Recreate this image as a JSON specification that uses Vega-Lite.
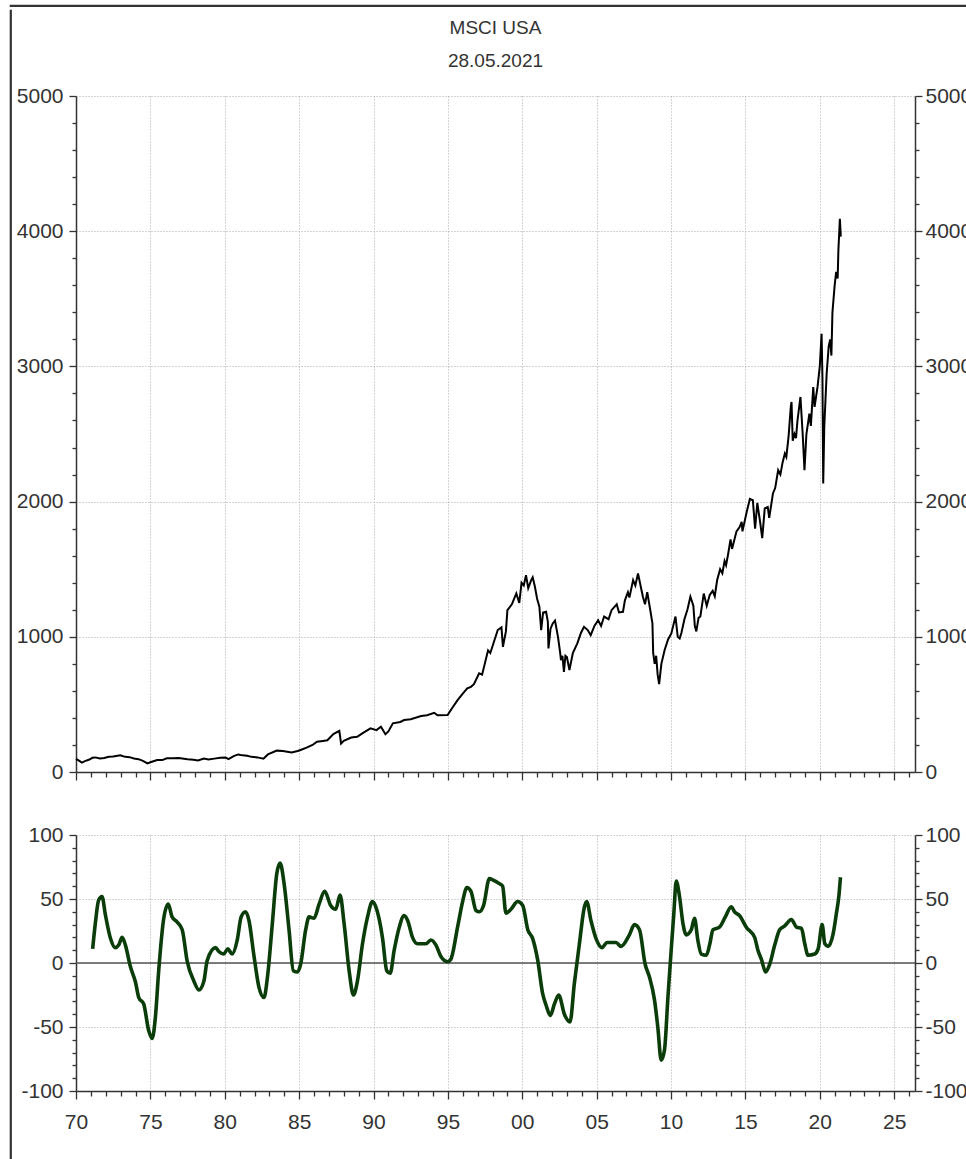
{
  "$schema": "https://vega.github.io/schema/vega-lite/v6.json",
  "background": "white",
  "padding": {"left": 7, "top": 2, "right": 0, "bottom": 0},
  "datasets": {
    "price": [
      {"t": 1970.0, "v": 96}, {"t": 1970.15, "v": 88}, {"t": 1970.4, "v": 70}, {"t": 1970.6, "v": 80}, {"t": 1970.9, "v": 92},
      {"t": 1971.1, "v": 105}, {"t": 1971.3, "v": 108}, {"t": 1971.6, "v": 100}, {"t": 1971.9, "v": 104}, {"t": 1972.2, "v": 112},
      {"t": 1972.5, "v": 114}, {"t": 1972.98, "v": 124}, {"t": 1973.3, "v": 112}, {"t": 1973.6, "v": 110}, {"t": 1973.9, "v": 100},
      {"t": 1974.2, "v": 95}, {"t": 1974.5, "v": 82}, {"t": 1974.8, "v": 64}, {"t": 1975.0, "v": 72}, {"t": 1975.45, "v": 89},
      {"t": 1975.8, "v": 88}, {"t": 1976.1, "v": 101}, {"t": 1976.5, "v": 102}, {"t": 1976.9, "v": 104}, {"t": 1977.5, "v": 95},
      {"t": 1977.9, "v": 90}, {"t": 1978.2, "v": 86}, {"t": 1978.6, "v": 100}, {"t": 1978.9, "v": 92}, {"t": 1979.3, "v": 99},
      {"t": 1979.7, "v": 106}, {"t": 1980.05, "v": 108}, {"t": 1980.25, "v": 96}, {"t": 1980.6, "v": 118}, {"t": 1980.9, "v": 130},
      {"t": 1981.06, "v": 126}, {"t": 1981.5, "v": 120}, {"t": 1981.8, "v": 112}, {"t": 1982.2, "v": 108}, {"t": 1982.6, "v": 98},
      {"t": 1982.9, "v": 130}, {"t": 1983.5, "v": 158}, {"t": 1983.9, "v": 155}, {"t": 1984.5, "v": 145}, {"t": 1984.9, "v": 155},
      {"t": 1985.1, "v": 163}, {"t": 1985.5, "v": 180}, {"t": 1985.9, "v": 200}, {"t": 1986.2, "v": 224}, {"t": 1986.6, "v": 230},
      {"t": 1986.9, "v": 235}, {"t": 1987.3, "v": 280}, {"t": 1987.7, "v": 305}, {"t": 1987.82, "v": 210}, {"t": 1988.0, "v": 230},
      {"t": 1988.5, "v": 255}, {"t": 1988.9, "v": 261}, {"t": 1989.3, "v": 290}, {"t": 1989.8, "v": 323}, {"t": 1990.2, "v": 310},
      {"t": 1990.5, "v": 335}, {"t": 1990.8, "v": 280}, {"t": 1991.0, "v": 300}, {"t": 1991.3, "v": 360}, {"t": 1991.8, "v": 370},
      {"t": 1992.06, "v": 384}, {"t": 1992.5, "v": 390}, {"t": 1993.2, "v": 414}, {"t": 1993.6, "v": 420}, {"t": 1994.08, "v": 438},
      {"t": 1994.3, "v": 420}, {"t": 1994.98, "v": 421}, {"t": 1995.3, "v": 475}, {"t": 1995.65, "v": 532}, {"t": 1996.0, "v": 580},
      {"t": 1996.3, "v": 618}, {"t": 1996.55, "v": 630}, {"t": 1996.75, "v": 650}, {"t": 1997.1, "v": 730}, {"t": 1997.3, "v": 720},
      {"t": 1997.7, "v": 900}, {"t": 1997.85, "v": 880}, {"t": 1998.0, "v": 930}, {"t": 1998.35, "v": 1050}, {"t": 1998.6, "v": 1070},
      {"t": 1998.7, "v": 926}, {"t": 1998.9, "v": 1040}, {"t": 1999.0, "v": 1197}, {"t": 1999.3, "v": 1240}, {"t": 1999.6, "v": 1321},
      {"t": 1999.8, "v": 1250}, {"t": 1999.95, "v": 1400}, {"t": 2000.1, "v": 1380}, {"t": 2000.25, "v": 1456}, {"t": 2000.4, "v": 1360},
      {"t": 2000.6, "v": 1419}, {"t": 2000.7, "v": 1440}, {"t": 2000.85, "v": 1370}, {"t": 2001.0, "v": 1280}, {"t": 2001.15, "v": 1222},
      {"t": 2001.27, "v": 1049}, {"t": 2001.4, "v": 1180}, {"t": 2001.6, "v": 1185}, {"t": 2001.72, "v": 1110}, {"t": 2001.76, "v": 914},
      {"t": 2001.9, "v": 1060}, {"t": 2002.05, "v": 1099}, {"t": 2002.2, "v": 1120}, {"t": 2002.4, "v": 1000}, {"t": 2002.55, "v": 880},
      {"t": 2002.6, "v": 828}, {"t": 2002.7, "v": 860}, {"t": 2002.8, "v": 740}, {"t": 2002.9, "v": 860}, {"t": 2003.0, "v": 850},
      {"t": 2003.17, "v": 754}, {"t": 2003.4, "v": 880}, {"t": 2003.7, "v": 951}, {"t": 2003.95, "v": 1030}, {"t": 2004.15, "v": 1074},
      {"t": 2004.4, "v": 1050}, {"t": 2004.6, "v": 1012}, {"t": 2004.85, "v": 1080}, {"t": 2005.1, "v": 1123}, {"t": 2005.3, "v": 1080},
      {"t": 2005.5, "v": 1150}, {"t": 2005.8, "v": 1130}, {"t": 2006.0, "v": 1197}, {"t": 2006.35, "v": 1240}, {"t": 2006.5, "v": 1180},
      {"t": 2006.77, "v": 1185}, {"t": 2006.9, "v": 1270}, {"t": 2007.1, "v": 1330}, {"t": 2007.2, "v": 1290}, {"t": 2007.45, "v": 1420},
      {"t": 2007.6, "v": 1380}, {"t": 2007.78, "v": 1468}, {"t": 2007.95, "v": 1380}, {"t": 2008.1, "v": 1300}, {"t": 2008.25, "v": 1240},
      {"t": 2008.4, "v": 1330}, {"t": 2008.6, "v": 1200}, {"t": 2008.75, "v": 1100}, {"t": 2008.8, "v": 880}, {"t": 2008.9, "v": 800},
      {"t": 2009.0, "v": 860}, {"t": 2009.1, "v": 720}, {"t": 2009.2, "v": 650}, {"t": 2009.35, "v": 800}, {"t": 2009.57, "v": 902},
      {"t": 2009.8, "v": 980}, {"t": 2010.02, "v": 1025}, {"t": 2010.3, "v": 1150}, {"t": 2010.45, "v": 1000}, {"t": 2010.58, "v": 988},
      {"t": 2010.7, "v": 1030}, {"t": 2010.9, "v": 1130}, {"t": 2011.1, "v": 1200}, {"t": 2011.3, "v": 1296}, {"t": 2011.5, "v": 1230},
      {"t": 2011.6, "v": 1080}, {"t": 2011.7, "v": 1040}, {"t": 2011.85, "v": 1140}, {"t": 2011.97, "v": 1150}, {"t": 2012.2, "v": 1320},
      {"t": 2012.4, "v": 1230}, {"t": 2012.6, "v": 1310}, {"t": 2012.8, "v": 1340}, {"t": 2012.94, "v": 1300}, {"t": 2013.1, "v": 1420},
      {"t": 2013.3, "v": 1500}, {"t": 2013.45, "v": 1470}, {"t": 2013.6, "v": 1560}, {"t": 2013.7, "v": 1530}, {"t": 2013.85, "v": 1620},
      {"t": 2014.0, "v": 1720}, {"t": 2014.1, "v": 1650}, {"t": 2014.4, "v": 1780}, {"t": 2014.6, "v": 1810}, {"t": 2014.75, "v": 1850},
      {"t": 2014.8, "v": 1780}, {"t": 2015.1, "v": 1930}, {"t": 2015.3, "v": 2020}, {"t": 2015.5, "v": 2010}, {"t": 2015.65, "v": 1800},
      {"t": 2015.8, "v": 1990}, {"t": 2016.0, "v": 1840}, {"t": 2016.13, "v": 1730}, {"t": 2016.3, "v": 1950}, {"t": 2016.5, "v": 1960},
      {"t": 2016.6, "v": 1880}, {"t": 2016.85, "v": 2060}, {"t": 2017.0, "v": 2100}, {"t": 2017.2, "v": 2232}, {"t": 2017.35, "v": 2200},
      {"t": 2017.5, "v": 2290}, {"t": 2017.65, "v": 2355}, {"t": 2017.75, "v": 2330}, {"t": 2017.9, "v": 2480}, {"t": 2018.05, "v": 2700},
      {"t": 2018.1, "v": 2737}, {"t": 2018.18, "v": 2450}, {"t": 2018.3, "v": 2500}, {"t": 2018.4, "v": 2470}, {"t": 2018.5, "v": 2600},
      {"t": 2018.7, "v": 2774}, {"t": 2018.85, "v": 2500}, {"t": 2018.97, "v": 2232}, {"t": 2019.1, "v": 2500}, {"t": 2019.3, "v": 2651},
      {"t": 2019.4, "v": 2560}, {"t": 2019.56, "v": 2848}, {"t": 2019.65, "v": 2700}, {"t": 2019.85, "v": 2850}, {"t": 2020.0, "v": 3000},
      {"t": 2020.12, "v": 3242}, {"t": 2020.18, "v": 2900}, {"t": 2020.23, "v": 2134}, {"t": 2020.3, "v": 2550}, {"t": 2020.46, "v": 2945},
      {"t": 2020.6, "v": 3150}, {"t": 2020.7, "v": 3200}, {"t": 2020.78, "v": 3080}, {"t": 2020.85, "v": 3400}, {"t": 2021.0, "v": 3600},
      {"t": 2021.1, "v": 3700}, {"t": 2021.2, "v": 3650}, {"t": 2021.25, "v": 3858}, {"t": 2021.35, "v": 4092}, {"t": 2021.41, "v": 3960}
    ],
    "mom": [
      {"t": 1971.12, "v": 11}, {"t": 1971.3, "v": 31}, {"t": 1971.52, "v": 49}, {"t": 1971.75, "v": 52}, {"t": 1971.97, "v": 38},
      {"t": 1972.3, "v": 20}, {"t": 1972.65, "v": 12}, {"t": 1972.87, "v": 14}, {"t": 1973.1, "v": 20}, {"t": 1973.32, "v": 14},
      {"t": 1973.66, "v": -3}, {"t": 1974.0, "v": -15}, {"t": 1974.22, "v": -27}, {"t": 1974.55, "v": -32}, {"t": 1974.89, "v": -53},
      {"t": 1975.12, "v": -59}, {"t": 1975.34, "v": -42}, {"t": 1975.56, "v": -6}, {"t": 1975.9, "v": 35}, {"t": 1976.2, "v": 46},
      {"t": 1976.46, "v": 36}, {"t": 1976.8, "v": 32}, {"t": 1977.14, "v": 26}, {"t": 1977.48, "v": 1}, {"t": 1977.92, "v": -14},
      {"t": 1978.26, "v": -21}, {"t": 1978.6, "v": -14}, {"t": 1978.82, "v": 2}, {"t": 1979.38, "v": 12}, {"t": 1979.6, "v": 9},
      {"t": 1979.93, "v": 7}, {"t": 1980.2, "v": 11}, {"t": 1980.5, "v": 7}, {"t": 1980.84, "v": 18}, {"t": 1981.1, "v": 36},
      {"t": 1981.4, "v": 40}, {"t": 1981.63, "v": 33}, {"t": 1981.97, "v": 5}, {"t": 1982.3, "v": -19}, {"t": 1982.64, "v": -27},
      {"t": 1982.87, "v": -11}, {"t": 1983.2, "v": 31}, {"t": 1983.5, "v": 70}, {"t": 1983.72, "v": 78}, {"t": 1983.99, "v": 62},
      {"t": 1984.32, "v": 26}, {"t": 1984.61, "v": -6}, {"t": 1984.88, "v": -7}, {"t": 1985.1, "v": -1}, {"t": 1985.44, "v": 26},
      {"t": 1985.67, "v": 36}, {"t": 1986.0, "v": 35}, {"t": 1986.34, "v": 46}, {"t": 1986.72, "v": 56}, {"t": 1987.12, "v": 45},
      {"t": 1987.46, "v": 42}, {"t": 1987.75, "v": 53}, {"t": 1988.02, "v": 31}, {"t": 1988.36, "v": -6}, {"t": 1988.65, "v": -25},
      {"t": 1988.92, "v": -14}, {"t": 1989.26, "v": 15}, {"t": 1989.6, "v": 36}, {"t": 1989.93, "v": 48}, {"t": 1990.15, "v": 44},
      {"t": 1990.6, "v": 20}, {"t": 1990.89, "v": -6}, {"t": 1991.12, "v": -8}, {"t": 1991.39, "v": 10}, {"t": 1991.73, "v": 28},
      {"t": 1992.06, "v": 37}, {"t": 1992.3, "v": 33}, {"t": 1992.62, "v": 20}, {"t": 1992.96, "v": 15}, {"t": 1993.52, "v": 15},
      {"t": 1993.86, "v": 18}, {"t": 1994.2, "v": 14}, {"t": 1994.53, "v": 5}, {"t": 1994.98, "v": 1}, {"t": 1995.2, "v": 3},
      {"t": 1995.65, "v": 28}, {"t": 1995.99, "v": 48}, {"t": 1996.28, "v": 59}, {"t": 1996.55, "v": 56}, {"t": 1996.89, "v": 41},
      {"t": 1997.11, "v": 40}, {"t": 1997.4, "v": 45}, {"t": 1997.79, "v": 66}, {"t": 1998.01, "v": 65}, {"t": 1998.46, "v": 62},
      {"t": 1998.68, "v": 60}, {"t": 1998.9, "v": 39}, {"t": 1999.24, "v": 42}, {"t": 1999.69, "v": 48}, {"t": 2000.03, "v": 45},
      {"t": 2000.37, "v": 26}, {"t": 2000.7, "v": 19}, {"t": 2001.04, "v": 2}, {"t": 2001.37, "v": -24}, {"t": 2001.6, "v": -33},
      {"t": 2001.89, "v": -41}, {"t": 2002.16, "v": -32}, {"t": 2002.45, "v": -25}, {"t": 2002.83, "v": -40}, {"t": 2003.21, "v": -46},
      {"t": 2003.5, "v": -16}, {"t": 2003.84, "v": 15}, {"t": 2004.18, "v": 44}, {"t": 2004.33, "v": 48}, {"t": 2004.62, "v": 33},
      {"t": 2004.96, "v": 19}, {"t": 2005.36, "v": 12}, {"t": 2005.7, "v": 16}, {"t": 2006.3, "v": 16}, {"t": 2006.64, "v": 13},
      {"t": 2007.2, "v": 22}, {"t": 2007.54, "v": 30}, {"t": 2007.88, "v": 26}, {"t": 2008.26, "v": -1}, {"t": 2008.55, "v": -11},
      {"t": 2008.89, "v": -29}, {"t": 2009.11, "v": -50}, {"t": 2009.34, "v": -76}, {"t": 2009.56, "v": -68}, {"t": 2009.79, "v": -27},
      {"t": 2010.01, "v": 10}, {"t": 2010.19, "v": 39}, {"t": 2010.35, "v": 64}, {"t": 2010.57, "v": 52}, {"t": 2010.8, "v": 31},
      {"t": 2011.02, "v": 22}, {"t": 2011.36, "v": 26}, {"t": 2011.58, "v": 35}, {"t": 2011.8, "v": 18}, {"t": 2012.03, "v": 7},
      {"t": 2012.37, "v": 6}, {"t": 2012.59, "v": 14}, {"t": 2012.82, "v": 26}, {"t": 2013.26, "v": 28}, {"t": 2013.65, "v": 36},
      {"t": 2014.05, "v": 44}, {"t": 2014.27, "v": 40}, {"t": 2014.61, "v": 37}, {"t": 2015.06, "v": 28}, {"t": 2015.62, "v": 20},
      {"t": 2015.84, "v": 10}, {"t": 2016.07, "v": 3}, {"t": 2016.36, "v": -7}, {"t": 2016.63, "v": -1}, {"t": 2016.97, "v": 14},
      {"t": 2017.3, "v": 26}, {"t": 2017.64, "v": 29}, {"t": 2018.09, "v": 34}, {"t": 2018.43, "v": 28}, {"t": 2018.77, "v": 27},
      {"t": 2018.99, "v": 15}, {"t": 2019.21, "v": 6}, {"t": 2019.66, "v": 7}, {"t": 2019.89, "v": 11}, {"t": 2020.16, "v": 30},
      {"t": 2020.34, "v": 15}, {"t": 2020.56, "v": 13}, {"t": 2020.9, "v": 23}, {"t": 2021.12, "v": 39}, {"t": 2021.28, "v": 52},
      {"t": 2021.39, "v": 67}
    ],
    "heading": [
      {"row": "1", "label": "MSCI USA"},
      {"row": "2", "label": "28.05.2021"}
    ],
    "anchor": [{"t": 2000, "v": 0}]
  },
  "spacing": 0,
  "vconcat": [
    {
      "width": 1000,
      "height": 1,
      "view": {"stroke": "#333333", "strokeWidth": 1.2},
      "data": {"name": "anchor"},
      "mark": {"type": "point", "opacity": 0},
      "encoding": {
        "x": {"field": "t", "type": "quantitative", "axis": null},
        "y": {"field": "v", "type": "quantitative", "axis": null}
      }
    },
    {
      "spacing": 1,
      "hconcat": [
        {
          "width": 1,
          "height": 1200,
          "view": {"stroke": "#333333", "strokeWidth": 1.2},
          "data": {"name": "anchor"},
          "mark": {"type": "point", "opacity": 0},
          "encoding": {
            "x": {"field": "t", "type": "quantitative", "axis": null},
            "y": {"field": "v", "type": "quantitative", "axis": null}
          }
        },
        {
          "spacing": 0,
          "vconcat": [
            {
              "width": 839,
              "height": 74.5,
              "data": {"name": "heading"},
              "mark": {"type": "text", "font": "Liberation Sans, Arial, sans-serif", "fontSize": 19, "color": "#333333", "align": "center", "baseline": "middle"},
              "encoding": {
                "y": {"field": "row", "type": "ordinal", "axis": null, "scale": {"type": "point", "padding": 0.629, "align": 0.43}},
                "text": {"field": "label", "type": "nominal"}
              }
            },
            {
              "spacing": 42,
              "vconcat": [
                {
                  "width": 839,
                  "height": 676,
                  "layer": [
                    {
                      "data": {"name": "price"},
                      "mark": {"type": "line", "color": "#000000", "strokeWidth": 2},
                      "encoding": {
                        "x": {"field": "t", "type": "quantitative", "scale": {"domain": [1970, 2026.4], "nice": false, "zero": false},
                          "axis": {"orient": "bottom", "values": [1970, 1975, 1980, 1985, 1990, 1995, 2000, 2005, 2010, 2015, 2020, 2025], "labels": false, "tickSize": 8, "grid": true}},
                        "y": {"field": "v", "type": "quantitative", "scale": {"domain": [0, 5000], "nice": false},
                          "axis": {"orient": "left", "values": [0, 1000, 2000, 3000, 4000, 5000], "tickSize": 7, "grid": true, "labelExpr": "'' + datum.value"}}
                      }
                    },
                    {
                      "data": {"name": "anchor"},
                      "mark": {"type": "point", "opacity": 0},
                      "encoding": {
                        "x": {"field": "t", "type": "quantitative", "axis": {"orient": "bottom", "values": [1971, 1972, 1973, 1974, 1976, 1977, 1978, 1979, 1981, 1982, 1983, 1984, 1986, 1987, 1988, 1989, 1991, 1992, 1993, 1994, 1996, 1997, 1998, 1999, 2001, 2002, 2003, 2004, 2006, 2007, 2008, 2009, 2011, 2012, 2013, 2014, 2016, 2017, 2018, 2019, 2021, 2022, 2023, 2024, 2026], "labels": false, "tickSize": 5, "grid": false, "domain": false}},
                        "y": {"field": "v", "type": "quantitative", "axis": {"orient": "left", "values": [200, 400, 600, 800, 1200, 1400, 1600, 1800, 2200, 2400, 2600, 2800, 3200, 3400, 3600, 3800, 4200, 4400, 4600, 4800], "labels": false, "tickSize": 4, "grid": false, "domain": false}}
                      }
                    },
                    {
                      "data": {"name": "anchor"},
                      "mark": {"type": "point", "opacity": 0},
                      "encoding": {
                        "x": {"field": "t", "type": "quantitative", "axis": null},
                        "y": {"field": "v", "type": "quantitative", "axis": {"orient": "right", "values": [0, 1000, 2000, 3000, 4000, 5000], "tickSize": 7, "grid": false, "labelPadding": 3, "labelExpr": "'' + datum.value"}}
                      }
                    },
                    {
                      "data": {"name": "anchor"},
                      "mark": {"type": "point", "opacity": 0},
                      "encoding": {
                        "x": {"field": "t", "type": "quantitative", "axis": null},
                        "y": {"field": "v", "type": "quantitative", "axis": {"orient": "right", "values": [200, 400, 600, 800, 1200, 1400, 1600, 1800, 2200, 2400, 2600, 2800, 3200, 3400, 3600, 3800, 4200, 4400, 4600, 4800], "labels": false, "tickSize": 4, "grid": false, "domain": false}}
                      }
                    }
                  ],
                  "resolve": {"axis": {"x": "independent", "y": "independent"}}
                },
                {
                  "width": 839,
                  "height": 256,
                  "layer": [
                    {
                      "data": {"name": "anchor"},
                      "mark": {"type": "rule", "color": "#555555", "strokeWidth": 1.5},
                      "encoding": {"y": {"datum": 0, "type": "quantitative", "axis": null}}
                    },
                    {
                      "data": {"name": "mom"},
                      "mark": {"type": "line", "color": "#0a3d0a", "strokeWidth": 3.6, "interpolate": "monotone"},
                      "encoding": {
                        "x": {"field": "t", "type": "quantitative", "scale": {"domain": [1970, 2026.4], "nice": false, "zero": false},
                          "axis": {"orient": "bottom", "values": [1970, 1975, 1980, 1985, 1990, 1995, 2000, 2005, 2010, 2015, 2020, 2025], "tickSize": 8, "grid": true, "labelExpr": "format(datum.value % 100, '02d')", "labelPadding": 12}},
                        "y": {"field": "v", "type": "quantitative", "scale": {"domain": [-100, 100], "nice": false},
                          "axis": {"orient": "left", "values": [-100, -50, 0, 50, 100], "tickSize": 7, "grid": true, "labelExpr": "'' + datum.value"}}
                      }
                    },
                    {
                      "data": {"name": "anchor"},
                      "mark": {"type": "point", "opacity": 0},
                      "encoding": {
                        "x": {"field": "t", "type": "quantitative", "axis": {"orient": "bottom", "values": [1971, 1972, 1973, 1974, 1976, 1977, 1978, 1979, 1981, 1982, 1983, 1984, 1986, 1987, 1988, 1989, 1991, 1992, 1993, 1994, 1996, 1997, 1998, 1999, 2001, 2002, 2003, 2004, 2006, 2007, 2008, 2009, 2011, 2012, 2013, 2014, 2016, 2017, 2018, 2019, 2021, 2022, 2023, 2024, 2026], "labels": false, "tickSize": 5, "grid": false, "domain": false}},
                        "y": {"field": "v", "type": "quantitative", "axis": {"orient": "left", "values": [-90, -80, -70, -60, -40, -30, -20, -10, 10, 20, 30, 40, 60, 70, 80, 90], "labels": false, "tickSize": 4, "grid": false, "domain": false}}
                      }
                    },
                    {
                      "data": {"name": "anchor"},
                      "mark": {"type": "point", "opacity": 0},
                      "encoding": {
                        "x": {"field": "t", "type": "quantitative", "axis": null},
                        "y": {"field": "v", "type": "quantitative", "axis": {"orient": "right", "values": [-100, -50, 0, 50, 100], "tickSize": 7, "grid": false, "labelPadding": 3, "labelExpr": "'' + datum.value"}}
                      }
                    },
                    {
                      "data": {"name": "anchor"},
                      "mark": {"type": "point", "opacity": 0},
                      "encoding": {
                        "x": {"field": "t", "type": "quantitative", "axis": null},
                        "y": {"field": "v", "type": "quantitative", "axis": {"orient": "right", "values": [-90, -80, -70, -60, -40, -30, -20, -10, 10, 20, 30, 40, 60, 70, 80, 90], "labels": false, "tickSize": 4, "grid": false, "domain": false}}
                      }
                    }
                  ],
                  "resolve": {"axis": {"x": "independent", "y": "independent"}}
                }
              ]
            }
          ]
        }
      ]
    }
  ],
  "config": {
    "view": {"stroke": null},
    "axis": {
      "title": null,
      "labelFont": "Liberation Sans, Arial, sans-serif",
      "labelFontSize": 21,
      "labelColor": "#333333",
      "labelPadding": 6,
      "labelOverlap": false,
      "labelFlush": false,
      "tickColor": "#333333",
      "tickWidth": 1.3,
      "domainColor": "#333333",
      "domainWidth": 1.5,
      "gridColor": "#a8a8a8",
      "gridDash": [1, 2],
      "gridWidth": 1
    }
  }
}
